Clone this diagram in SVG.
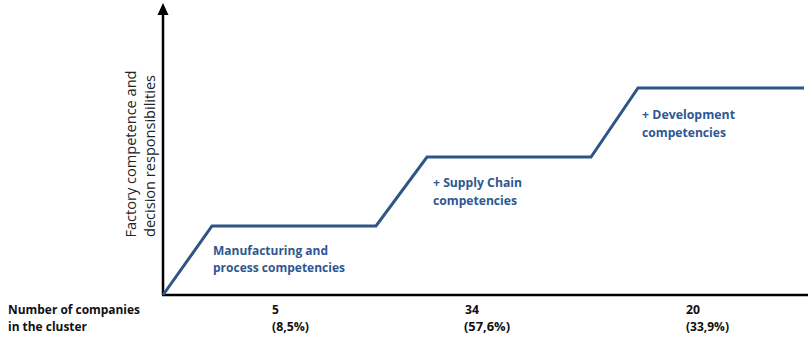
<svg xmlns="http://www.w3.org/2000/svg" width="808" height="337" viewBox="0 0 808 337">
<style>
.lbl{font-family:"Open Sans","Liberation Sans",sans-serif;font-weight:bold;font-size:13px;fill:#2f5792}
.ax{font-family:"Open Sans","Liberation Sans",sans-serif;font-size:15px;fill:#222}
.bt{font-family:"Open Sans","Liberation Sans",sans-serif;font-weight:bold;font-size:12px;fill:#111}
</style>
<rect width="808" height="337" fill="#fff"/>
<g id="axes">
<line x1="163" y1="295" x2="163" y2="13" stroke="#000" stroke-width="2.5"/>
<path d="M157.5,15 L163,3 L168.5,15 Z" fill="#000"/>
<line x1="162" y1="295" x2="808" y2="295" stroke="#000" stroke-width="2.5"/>
</g>
<g id="connectors">
<polyline points="163,295 212,226 376,226 427,157 591,157 638,88 804,88" fill="none" stroke="#2f5585" stroke-width="3" stroke-linejoin="miter"/>
</g>
<g id="yaxis-label">
<text class="ax" transform="translate(136,154) rotate(-90)" text-anchor="middle" textLength="167" lengthAdjust="spacingAndGlyphs">Factory competence and</text>
<text class="ax" transform="translate(155,156) rotate(-90)" text-anchor="middle" textLength="162" lengthAdjust="spacingAndGlyphs">decision responsibilities</text>
</g>
<g id="stage1">
<text class="lbl" x="213" y="255" textLength="115" lengthAdjust="spacingAndGlyphs">Manufacturing and</text>
<text class="lbl" x="213" y="272" textLength="132" lengthAdjust="spacingAndGlyphs">process competencies</text>
</g>
<g id="stage2">
<text class="lbl" x="433" y="187" textLength="89" lengthAdjust="spacingAndGlyphs">+ Supply Chain</text>
<text class="lbl" x="433" y="205" textLength="84" lengthAdjust="spacingAndGlyphs">competencies</text>
</g>
<g id="stage3">
<text class="lbl" x="642" y="119" textLength="93" lengthAdjust="spacingAndGlyphs">+ Development</text>
<text class="lbl" x="642" y="137" textLength="84" lengthAdjust="spacingAndGlyphs">competencies</text>
</g>
<g id="bottom-labels">
<text class="bt" x="8" y="314" textLength="132" lengthAdjust="spacingAndGlyphs">Number of companies</text>
<text class="bt" x="8" y="331" textLength="79" lengthAdjust="spacingAndGlyphs">in the cluster</text>
<text class="bt" x="272" y="314">5</text>
<text class="bt" x="272" y="331" textLength="37" lengthAdjust="spacingAndGlyphs">(8,5%)</text>
<text class="bt" x="465" y="314" textLength="14" lengthAdjust="spacingAndGlyphs">34</text>
<text class="bt" x="464" y="331" textLength="46" lengthAdjust="spacingAndGlyphs">(57,6%)</text>
<text class="bt" x="686" y="314" textLength="14" lengthAdjust="spacingAndGlyphs">20</text>
<text class="bt" x="686" y="331" textLength="43" lengthAdjust="spacingAndGlyphs">(33,9%)</text>
</g>
</svg>
